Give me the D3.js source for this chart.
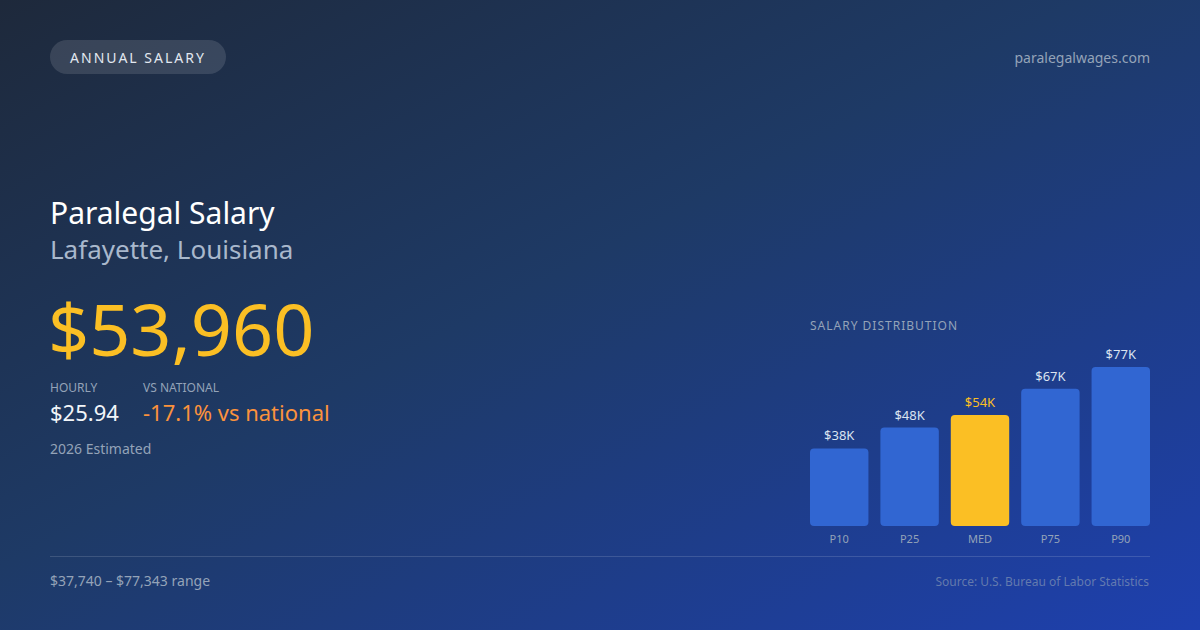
<!DOCTYPE html>
<html>
<head>
<meta charset="utf-8">
<script src="https://cdn.jsdelivr.net/npm/d3@7"></script>
<style>
  html, body { margin: 0; padding: 0; background: #1e293b; }
  svg { display: block; font-family: "Noto Sans", "Open Sans", sans-serif; }
</style>
</head>
<body>
<svg id="chart"></svg>
<script>
// Data
const categories = ["P10", "P25", "MED", "P75", "P90"];
const salaries = [37740, 47900, 53960, 66800, 77343];
const highlight = "MED";

const width = 1200;
const height = 630;

const svg = d3.select("#chart")
    .attr("width", width)
    .attr("height", height);

// Background gradient
const defs = svg.append("defs");
const grad = defs.append("linearGradient")
    .attr("id", "bg")
    .attr("x1", "0%").attr("y1", "0%")
    .attr("x2", "100%").attr("y2", "100%");
grad.append("stop").attr("offset", "0%").attr("stop-color", "#1e293b");
grad.append("stop").attr("offset", "45%").attr("stop-color", "#1e3a66");
grad.append("stop").attr("offset", "100%").attr("stop-color", "#1e40af");

svg.append("rect")
    .attr("width", width)
    .attr("height", height)
    .attr("fill", "url(#bg)");

// Pill tag
svg.append("rect")
    .attr("x", 50).attr("y", 40)
    .attr("width", 176).attr("height", 34)
    .attr("rx", 17)
    .attr("fill", "rgba(255,255,255,0.12)");
svg.append("text")
    .attr("x", 138).attr("y", 58)
    .attr("dy", "0.35em")
    .attr("text-anchor", "middle")
    .attr("font-size", 14)
    .attr("letter-spacing", 2)
    .attr("fill", "#e2e8f0")
    .text("ANNUAL SALARY");

svg.append("text")
    .attr("x", 1150).attr("y", 58)
    .attr("dy", "0.35em")
    .attr("text-anchor", "end")
    .attr("font-size", 14)
    .attr("fill", "#94a3b8")
    .text("paralegalwages.com");

// Headline texts
svg.append("text")
    .attr("x", 50).attr("y", 224)
    .attr("font-size", 30)
    .attr("fill", "#ffffff")
    .text("Paralegal Salary");
svg.append("text")
    .attr("x", 50).attr("y", 259)
    .attr("font-size", 26)
    .attr("fill", "#a9b8cc")
    .text("Lafayette, Louisiana");
svg.append("text")
    .attr("x", 48).attr("y", 356)
    .attr("font-size", 72)
    .attr("fill", "#fbbf24")
    .text("$" + d3.format(",")(salaries[2]));

// Stats
svg.append("text")
    .attr("x", 50).attr("y", 392)
    .attr("font-size", 12)
    .attr("fill", "#94a3b8")
    .text("HOURLY");
svg.append("text")
    .attr("x", 143).attr("y", 392)
    .attr("font-size", 12)
    .attr("fill", "#94a3b8")
    .text("VS NATIONAL");
svg.append("text")
    .attr("x", 50).attr("y", 421)
    .attr("font-size", 22)
    .attr("fill", "#f1f5f9")
    .text("$25.94");
svg.append("text")
    .attr("x", 143).attr("y", 421)
    .attr("font-size", 22)
    .attr("fill", "#fb923c")
    .text("-17.1% vs national");
svg.append("text")
    .attr("x", 50).attr("y", 454)
    .attr("font-size", 14)
    .attr("fill", "#94a3b8")
    .text("2026 Estimated");

// Chart
svg.append("text")
    .attr("x", 810).attr("y", 330)
    .attr("font-size", 12)
    .attr("letter-spacing", 1)
    .attr("fill", "#94a3b8")
    .text("SALARY DISTRIBUTION");

const xScale = d3.scaleBand()
    .domain(categories)
    .range([810, 1150])
    .paddingInner(0.17)
    .paddingOuter(0);

const yScale = d3.scaleLinear()
    .domain([0, d3.max(salaries)])
    .range([526, 367]);

const data = categories.map((c, i) => ({ cat: c, value: salaries[i] }));

const bars = svg.selectAll("g.bar")
    .data(data)
    .enter()
    .append("g")
    .attr("class", "bar");

bars.append("rect")
    .attr("x", d => xScale(d.cat))
    .attr("y", d => yScale(d.value))
    .attr("width", xScale.bandwidth())
    .attr("height", d => yScale(0) - yScale(d.value))
    .attr("rx", 4)
    .attr("fill", d => d.cat === highlight ? "#fbbf24" : "#3166d2");

bars.append("text")
    .attr("x", d => xScale(d.cat) + xScale.bandwidth() / 2)
    .attr("y", d => yScale(d.value) - 8)
    .attr("text-anchor", "middle")
    .attr("font-size", 13)
    .attr("fill", d => d.cat === highlight ? "#fbbf24" : "#dbe4f0")
    .text(d => "$" + Math.round(d.value / 1000) + "K");

bars.append("text")
    .attr("x", d => xScale(d.cat) + xScale.bandwidth() / 2)
    .attr("y", 543)
    .attr("text-anchor", "middle")
    .attr("font-size", 11)
    .attr("fill", "#94a3b8")
    .text(d => d.cat);

// Footer
svg.append("line")
    .attr("x1", 50).attr("x2", 1150)
    .attr("y1", 556.5).attr("y2", 556.5)
    .attr("stroke", "rgba(255,255,255,0.14)")
    .attr("stroke-width", 1);

svg.append("text")
    .attr("x", 50).attr("y", 586)
    .attr("font-size", 14)
    .attr("fill", "#94a3b8")
    .text("$" + d3.format(",")(salaries[0]) + " \u2013 $" + d3.format(",")(salaries[4]) + " range");

svg.append("text")
    .attr("x", 1149).attr("y", 586)
    .attr("text-anchor", "end")
    .attr("font-size", 12)
    .attr("fill", "rgba(148,163,184,0.6)")
    .text("Source: U.S. Bureau of Labor Statistics");
</script>
</body>
</html>
